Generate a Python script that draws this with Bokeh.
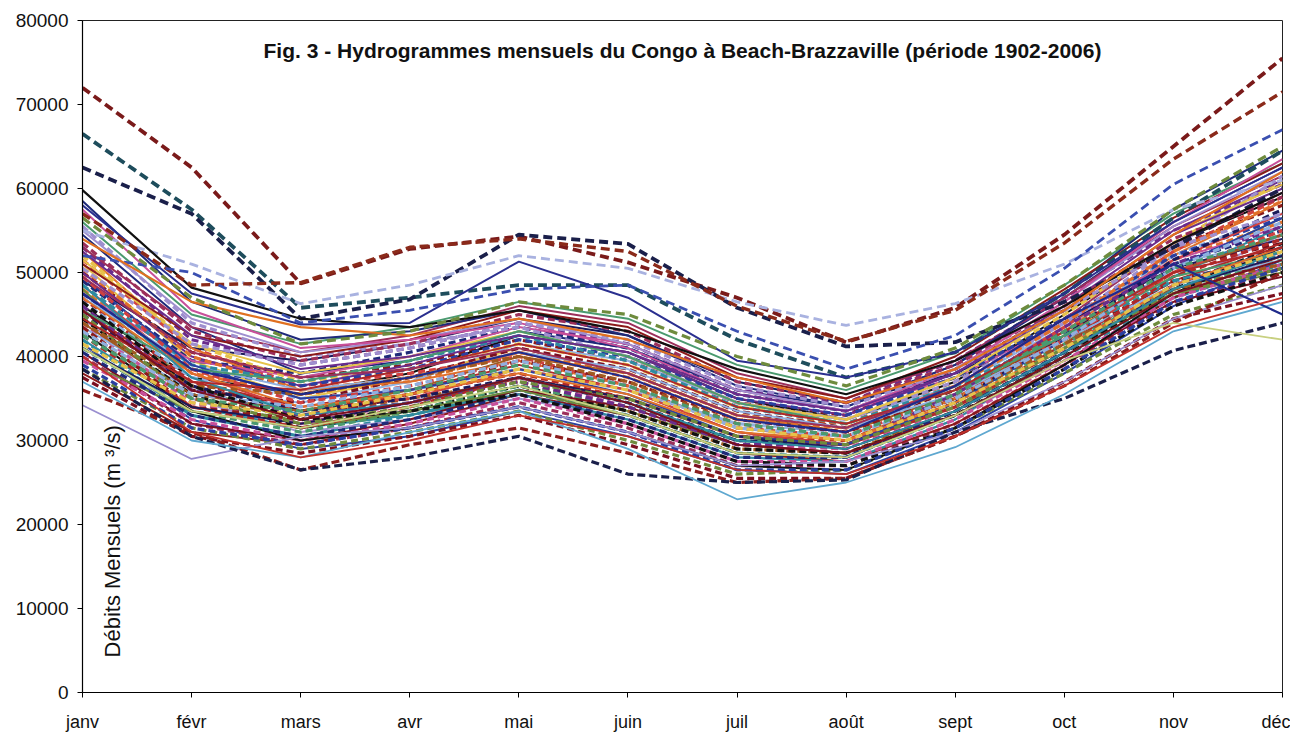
from bokeh.plotting import figure
from bokeh.models import Range1d, FixedTicker, Label
from bokeh.embed import file_html
from bokeh.resources import INLINE
import math

months = ["janv", "févr", "mars", "avr", "mai", "juin", "juil", "août", "sept", "oct", "nov", "déc"]
month_pos = [0, 1, 2, 3, 4, 5, 6, 7, 8, 9, 10, 11]
y_ticks = [0, 10000, 20000, 30000, 40000, 50000, 60000, 70000, 80000]

title_text = "Fig. 3 - Hydrogrammes mensuels du Congo à Beach-Brazzaville (période 1902-2006)"
ylabel_text = "Débits Mensuels (m ³/s)"

# Monthly flows (m3/s), one list per year
s11 = [50000, 40500, 37500, 39000, 42000, 39500, 34500, 33000, 38500, 45500, 53000, 58000]
s12 = [48000, 38000, 35500, 37000, 40500, 38000, 33000, 32000, 37000, 44000, 51500, 56000]
s13 = [44000, 34500, 32000, 34500, 37500, 34000, 29500, 29000, 34000, 41000, 48500, 52500]
s14 = [42000, 33000, 30500, 33000, 36000, 33000, 28500, 28000, 33000, 40000, 47000, 51000]
s15 = [53000, 42000, 39000, 41000, 44000, 41500, 36000, 34500, 39500, 47000, 55000, 60500]
s16 = [47000, 37000, 33500, 35500, 38000, 35000, 30500, 30000, 35000, 42000, 50000, 54500]
s17 = [40000, 32000, 29500, 31500, 34500, 31500, 27000, 27000, 32000, 39000, 46500, 50000]
s18 = [45500, 36000, 34500, 37500, 41000, 38500, 33500, 31500, 36000, 43000, 50500, 53500]
s19 = [51500, 41000, 36500, 38000, 40000, 36500, 31500, 30500, 35500, 43500, 52500, 59000]
s20 = [43000, 35000, 33000, 35000, 37000, 33500, 29000, 28500, 33500, 40500, 47500, 50500]
s21 = [49000, 39500, 38000, 40500, 43500, 41000, 35500, 33500, 38000, 44500, 51000, 55000]
s22 = [38500, 31500, 29000, 31000, 33500, 30000, 26000, 26500, 31500, 38000, 45000, 48500]
s23 = [46500, 37500, 35000, 36000, 38500, 36000, 32000, 31000, 36500, 44000, 52000, 57000]
s24 = [52000, 41500, 37000, 38500, 41500, 39000, 34000, 32500, 37500, 45000, 53500, 61000]
s25 = [44500, 35500, 31500, 33500, 36500, 33500, 29000, 28500, 33000, 40000, 48000, 53500]
s26 = [47500, 38500, 36500, 38500, 42000, 40000, 35000, 33000, 37500, 44500, 52000, 56500]
s27 = [41000, 33500, 31000, 33500, 36500, 34000, 30000, 29500, 34500, 41500, 48000, 51500]
s28 = [55500, 44000, 40000, 41500, 43500, 40000, 34500, 32500, 37000, 44000, 53000, 61500]
s29 = [45000, 36500, 33500, 35000, 37500, 34500, 30000, 29500, 34500, 42500, 51500, 57500]
s30 = [43500, 34000, 32500, 35500, 39500, 37000, 32500, 31000, 35500, 42000, 49000, 52000]
s31 = [50500, 40000, 36000, 37500, 40500, 37500, 32500, 31500, 36500, 44000, 52500, 58500]
s32 = [39500, 32500, 30000, 32000, 35000, 32000, 27500, 27500, 32500, 39500, 47000, 51000]
s33 = [48500, 39000, 37000, 39500, 42500, 39500, 34000, 32000, 36500, 42500, 49000, 52000]
s34 = [46000, 36000, 33000, 34500, 37000, 34000, 29500, 29500, 35500, 43500, 51000, 55500]
s35 = [42500, 34000, 31500, 34000, 37500, 35000, 30500, 29500, 34000, 41000, 49500, 54000]
s36 = [53500, 43000, 39500, 41500, 45000, 43000, 37000, 34500, 39000, 46000, 54000, 59000]
s37 = [37500, 30500, 28500, 30500, 33000, 29500, 25500, 25500, 30500, 37000, 44500, 47500]
s38 = [49500, 38500, 34500, 36500, 39500, 36500, 31500, 30500, 35000, 42000, 50000, 55000]
s39 = [44000, 36500, 35500, 37500, 40000, 37000, 32000, 30500, 35000, 41500, 48000, 51000]
s40 = [51000, 42500, 40000, 42000, 45500, 43500, 37500, 35000, 40000, 48000, 56500, 63000]
s41 = [40500, 33000, 30500, 32500, 35500, 32500, 28000, 28000, 33500, 40500, 48500, 53000]
s42 = [47000, 38000, 34000, 35500, 38000, 35500, 31000, 30000, 34500, 41000, 48500, 53000]
s43 = [45000, 35000, 32000, 34000, 37000, 35000, 30500, 29500, 34000, 41000, 47500, 50500]
s44 = [57500, 45500, 41000, 42000, 44000, 41000, 35500, 33500, 38500, 46500, 56000, 63500]
s45 = [43000, 35500, 34000, 36500, 39500, 36500, 31500, 30500, 35000, 42000, 50500, 56000]
s46 = [48500, 37500, 33000, 34500, 37500, 34500, 30000, 29000, 33500, 40500, 48000, 52500]
s47 = [41500, 34500, 33000, 35500, 38500, 36000, 31500, 30000, 34500, 41000, 48500, 52500]
s48 = [52500, 42500, 38500, 40000, 42500, 40500, 35500, 33500, 38000, 45500, 54500, 60000]
s49 = [46500, 36500, 32500, 33500, 35500, 32000, 27500, 27000, 31500, 38500, 46000, 50000]
s50 = [44500, 37000, 36000, 38500, 41500, 39000, 34000, 32000, 36000, 43000, 50000, 53000]
s51 = [39000, 31500, 29500, 31500, 34000, 31000, 26500, 26500, 31500, 38500, 46500, 50500]
s52 = [49500, 40500, 37500, 38500, 41000, 38000, 33000, 31500, 36500, 44500, 53500, 59500]
s53 = [42500, 35000, 33500, 36000, 39000, 36500, 32000, 30500, 35500, 43000, 50500, 54500]
s54 = [45500, 36000, 32500, 34500, 37500, 34500, 29500, 28500, 33000, 40000, 47500, 51500]
s55 = [50500, 41500, 39000, 41000, 44000, 42000, 36500, 34000, 38500, 45500, 53000, 57000]
s63 = [54500, 43500, 38000, 39500, 43000, 41000, 36000, 34000, 39000, 47000, 56000, 62500]
s64 = [48000, 36500, 32000, 33000, 36000, 33500, 29500, 28500, 33500, 41500, 50500, 56500]
s65 = [43500, 36000, 34500, 37000, 41500, 39500, 34500, 32500, 36500, 43500, 51000, 54000]
s66 = [51000, 39500, 35000, 37500, 41000, 38000, 33000, 31500, 36000, 43000, 49500, 52500]
s67 = [46000, 37500, 35500, 38000, 42500, 40500, 35000, 32500, 37000, 45000, 53500, 59000]
s68 = [41500, 32500, 29000, 30500, 33500, 30500, 26500, 26000, 31000, 38000, 46000, 51500]
s69 = [56000, 45000, 41500, 43500, 46500, 44500, 39000, 36000, 40500, 48500, 57000, 63000]
s70 = [44500, 35000, 31000, 32500, 35000, 32500, 28000, 27500, 32500, 40000, 48500, 54500]
s71 = [49000, 41000, 39500, 41500, 44500, 42500, 37000, 34500, 38000, 44000, 50500, 54000]
s72 = [38000, 31000, 29500, 32000, 35500, 33000, 28500, 27500, 32000, 39000, 47000, 52000]
s73 = [52500, 41000, 36000, 37000, 39500, 36500, 31500, 30000, 35000, 43000, 52000, 58500]
s74 = [47500, 39500, 37500, 40000, 43500, 41500, 36000, 33500, 37500, 44000, 51500, 55500]
s75 = [42000, 34000, 31500, 33000, 35500, 32500, 28000, 27500, 32500, 40500, 49500, 55500]
s76 = [50000, 40000, 36500, 39000, 42500, 40500, 35000, 33000, 38000, 46000, 55000, 61000]
s77 = [45500, 37000, 34000, 36000, 39000, 36000, 31000, 29500, 34000, 41500, 49000, 53500]
s78 = [53000, 43500, 40500, 42500, 46000, 44000, 38000, 35000, 39500, 47000, 55500, 61500]
s79 = [40500, 32000, 30000, 32500, 36000, 34000, 29500, 28500, 33000, 39500, 46500, 49500]
s80 = [48500, 38000, 33500, 35000, 38500, 36000, 31000, 29500, 34500, 42500, 51500, 57000]
s81 = [44000, 35500, 33500, 36000, 40000, 38000, 33000, 31000, 35500, 42500, 50000, 54500]
s82 = [58500, 46500, 42000, 43000, 45500, 42500, 36500, 34000, 39000, 47500, 57500, 64500]
s83 = [39500, 33500, 31500, 33500, 36000, 33000, 28500, 28000, 33000, 40000, 47500, 50000]
s84 = [47000, 39000, 36000, 37500, 40500, 38500, 33500, 31500, 35500, 42000, 48500, 51500]
s85 = [51500, 41500, 38000, 40000, 43000, 40000, 34500, 32500, 37500, 45500, 54500, 60500]
s86 = [43000, 33500, 30000, 31500, 34000, 31000, 27000, 26500, 31500, 39000, 47500, 53000]
s87 = [49500, 39000, 35000, 36000, 38500, 35500, 30500, 29500, 34500, 42000, 50500, 56500]
s88 = [45500, 38500, 37000, 39500, 43000, 40000, 34500, 32000, 36000, 42500, 49500, 52500]
s89 = [55000, 44500, 40500, 42000, 44500, 41500, 36000, 33500, 38500, 46500, 55500, 62000]
s90 = [41000, 34000, 32000, 34500, 37500, 35000, 30500, 29000, 33500, 40500, 48000, 52000]

s56 = [34200, 27800, 30500, 31500, 34000, 31000, 27000, 27500, 31000, 37000, 44500, 48500]
s57 = [36000, 31000, 26500, 29500, 31500, 28500, 25000, 25500, 30500, 36500, 44000, 50000]
s58 = [38500, 30500, 26500, 28000, 30500, 26000, 25000, 25300, 31000, 35000, 40700, 44000]
s59 = [37000, 30000, 28000, 31000, 33500, 29000, 23000, 25000, 29200, 35500, 43000, 46500]
s60 = [41000, 33500, 31500, 34000, 36500, 33000, 28500, 28000, 33000, 39500, 44000, 42000]
s61 = [47500, 38500, 35500, 37500, 40500, 37500, 32500, 31000, 36500, 44500, 51000, 45000]
s62 = [40000, 31000, 28000, 30000, 33000, 30500, 26500, 26000, 30500, 36500, 43500, 47000]

s01 = [72000, 62500, 48700, 52800, 54300, 51200, 47000, 41700, 45800, 54500, 65000, 75500]
s02 = [66500, 57500, 45800, 47000, 48500, 48500, 42000, 37500, 40500, 47500, 56500, 64500]
s03 = [62500, 57000, 44500, 46800, 54500, 53400, 45800, 41200, 41700, 46500, 53000, 60000]
s04 = [55000, 51000, 46300, 48500, 52000, 50500, 46500, 43700, 46300, 51000, 57500, 61000]
s05 = [59800, 48200, 44500, 43500, 45500, 43000, 38500, 35500, 39500, 46000, 53500, 59500]
s06 = [58000, 47500, 43800, 44000, 51300, 47000, 39500, 37500, 40500, 47500, 56000, 62500]
s07 = [57000, 48500, 48800, 53000, 54000, 52500, 46000, 41800, 45500, 53500, 63500, 71500]
s08 = [52000, 50000, 44000, 45500, 48000, 48500, 43000, 38500, 42500, 50500, 60500, 67000]
s09 = [54000, 46500, 43500, 42500, 44500, 42000, 37500, 34500, 38500, 45500, 54500, 62000]
s10 = [56500, 47000, 41500, 43000, 46500, 45000, 40000, 36500, 41000, 48500, 57500, 65000]

bundle = [s11, s63, s12, s64, s13, s65, s14, s66, s15, s67, s16, s68, s17, s69, s18, s70,
          s19, s71, s20, s72, s21, s73, s22, s74, s23, s75, s24, s76, s25, s77, s26, s78,
          s27, s79, s28, s80, s29, s81, s30, s82, s31, s83, s32, s84, s33, s85, s34, s86,
          s35, s87, s36, s88, s37, s89, s38, s90, s39, s40, s41, s42, s43, s44, s45, s46,
          s47, s48, s49, s50, s51, s52, s53, s54, s55]
edges = [s56, s57, s58, s59, s60, s61, s62]
extremes = [s01, s02, s03, s04, s05, s06, s07, s08, s09, s10]

palette = ["#8B1A1A", "#1F2A7A", "#E0702A", "#6E8B3D", "#C8509A", "#8FB0E0",
           "#2E8BA0", "#E6C24A", "#6A2C8C", "#111111", "#B02828", "#2A3FA0",
           "#9C2F5A", "#4A9A6F", "#7A1020", "#9F8FCF", "#D04040", "#1A1A5A", "#A05A20"]

edge_styles = [("#9A8FD0", "solid", 1.8), ("#8B1C1C", "dashed", 3.2), ("#1A1F4A", "dashed", 3.2),
               ("#5FA8D0", "solid", 1.8), ("#C8D080", "solid", 1.8), ("#1F2A8B", "solid", 2.2),
               ("#C0302A", "solid", 1.8)]
extreme_styles = [("#7A1A1A", "dashed", 3.8), ("#1E4D5C", "dashed", 3.8), ("#1A1F4A", "dashed", 3.8),
                  ("#A9B2E0", "dashed", 2.8), ("#111111", "solid", 2.2), ("#2A2F8F", "solid", 2),
                  ("#8B2A1A", "dashed", 3.4), ("#3A4FB0", "dashed", 2.8), ("#E07020", "solid", 2.2),
                  ("#6E8B3D", "dashed", 3.2)]

p = figure(width=1290, height=734, output_backend="svg", toolbar_location=None,
           x_range=Range1d(0, 11), y_range=Range1d(0, 80000),
           min_border_left=82, min_border_right=8, min_border_top=20, min_border_bottom=42)
p.background_fill_color = "white"
p.border_fill_color = "white"
p.outline_line_color = "#222222"
p.outline_line_width = 1
p.xgrid.visible = False
p.ygrid.visible = False

for i, s in enumerate(bundle):
    c = palette[i % len(palette)]
    if i % 2 == 0:
        p.line(month_pos, s, line_color=c, line_width=3.2, line_dash="7 4")
    else:
        p.line(month_pos, s, line_color=c, line_width=2.0)

for s, (c, st, w) in zip(edges, edge_styles):
    if st == "dashed":
        p.line(month_pos, s, line_color=c, line_width=w, line_dash="8 4")
    else:
        p.line(month_pos, s, line_color=c, line_width=w)

for s, (c, st, w) in zip(extremes, extreme_styles):
    if st == "dashed":
        p.line(month_pos, s, line_color=c, line_width=w, line_dash="9 5")
    else:
        p.line(month_pos, s, line_color=c, line_width=w)

for ax in (p.xaxis[0], p.yaxis[0]):
    ax.axis_line_color = "black"
    ax.axis_line_width = 1.2
    ax.major_tick_line_color = "black"
    ax.major_tick_out = 5
    ax.major_tick_in = 0
    ax.minor_tick_line_color = None
    ax.major_label_text_font = "Liberation Sans"
    ax.major_label_text_color = "#111111"

p.xaxis.ticker = FixedTicker(ticks=month_pos)
p.xaxis.major_label_overrides = {i: m for i, m in zip(month_pos, months)}
p.xaxis.major_label_text_font_size = "18px"
p.xaxis.major_label_standoff = 14
p.yaxis.ticker = FixedTicker(ticks=y_ticks)
p.yaxis.major_label_text_font_size = "19px"
p.yaxis.major_label_standoff = 9

p.add_layout(Label(x=5.5, y=76400, text=title_text, text_align="center", text_baseline="middle",
                   text_font="Liberation Sans", text_font_style="bold", text_font_size="21px",
                   text_color="#111111"))
p.add_layout(Label(x=0.275, y=18000, text=ylabel_text, text_align="center", text_baseline="middle",
                   angle=math.pi / 2, text_font="Liberation Sans", text_font_size="22px",
                   text_color="#111111"))

open("out.html", "w").write(file_html(p, INLINE))
